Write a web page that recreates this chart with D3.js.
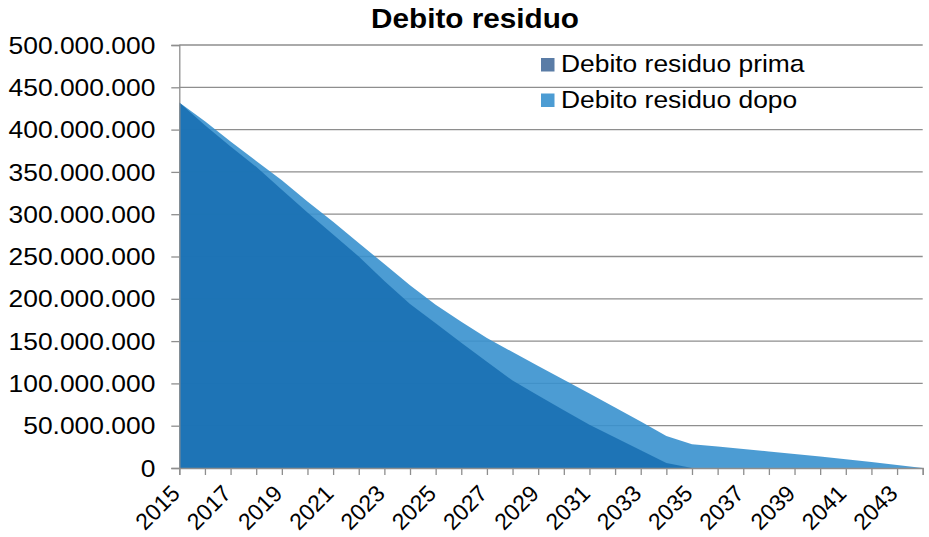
<!DOCTYPE html>
<html>
<head>
<meta charset="utf-8">
<script src="https://cdn.jsdelivr.net/npm/d3@7"></script>
<style>
  html, body { margin: 0; padding: 0; background: #fff; }
  svg { display: block; font-family: "Liberation Sans", Arial, sans-serif; }
</style>
</head>
<body>
<svg id="chart" width="929" height="537"></svg>
<script>
// Years on the category axis
const years = d3.range(2015, 2045);
// Labels shown on the x axis (every other year)
const yearLabels = years.filter((y, i) => i % 2 === 0);
// Residual debt before the change (euro)
const debitoPrima = [
  432e6, 405e6, 380e6, 356e6, 329e6, 302e6, 276e6, 250e6, 221e6, 194e6,
  171e6, 148e6, 125.5e6, 103.4e6, 85.6e6, 68.3e6, 51.2e6, 36e6, 21e6, 6e6,
  0, 0, 0, 0, 0, 0, 0, 0, 0, 0
];
// Residual debt after the change (euro)
const debitoDopo = [
  432e6, 410e6, 386e6, 363e6, 340e6, 315e6, 291e6, 266e6, 241e6, 216e6,
  193e6, 173e6, 153.7e6, 137e6, 120.7e6, 104.4e6, 88e6, 71.5e6, 55e6, 37.8e6,
  28e6, 25.3e6, 22.5e6, 19.6e6, 16.5e6, 13.5e6, 10.3e6, 7e6, 3.6e6, 0
];
// Y axis tick values
const yTicks = d3.range(0, 500e6 + 1, 50e6);
const seriesNames = ["Debito residuo prima", "Debito residuo dopo"];

const colors = {
  prima: "rgb(26,112,178)",
  dopo: "rgb(56,145,206)",
  primaKey: "#5a7ca6",
  dopoKey: "#4c9cd3",
  grid: "#8e8e8e"
};

const svg = d3.select("#chart");
const plotLeft = 179.3, plotRight = 922.7, plotTop = 45, plotBottom = 468;

const x = d3.scalePoint().domain(years).range([plotLeft, plotRight]);
const y = d3.scaleLinear().domain([0, 500e6]).range([plotBottom, plotTop]);

const it = d3.formatLocale({ decimal: ",", thousands: ".", grouping: [3], currency: ["€", ""] });
const fmt = it.format(",d");

// Horizontal gridlines (drawn under the semi-transparent areas)
svg.append("g")
  .selectAll("line")
  .data(yTicks.filter(d => d > 0))
  .join("line")
  .attr("x1", plotLeft).attr("x2", plotRight)
  .attr("y1", d => y(d)).attr("y2", d => y(d))
  .attr("stroke", colors.grid)
  .attr("stroke-width", 1.3);

const area = vals => d3.area()
  .x((d, i) => x(years[i]))
  .y0(y(0))
  .y1(d => y(d))(vals);

svg.append("path")
  .attr("d", area(debitoDopo))
  .attr("fill", colors.dopo)
  .attr("fill-opacity", 0.9);

svg.append("path")
  .attr("d", area(debitoPrima))
  .attr("fill", colors.prima)
  .attr("fill-opacity", 0.9);

// Y axis
const yAxis = svg.append("g")
  .attr("transform", `translate(${plotLeft},0)`)
  .call(d3.axisLeft(y).tickValues(yTicks).tickFormat(fmt).tickSize(8).tickPadding(16));
yAxis.select(".domain").attr("stroke", colors.grid).attr("stroke-width", 1.3);
yAxis.selectAll(".tick line").attr("stroke", colors.grid).attr("stroke-width", 1.3);
yAxis.selectAll(".tick text")
  .attr("font-size", 24)
  .attr("fill", "#000")
  .attr("dy", "0.34em")
  .attr("transform", function () {
    const tx = +d3.select(this).attr("x");
    return `translate(${tx},0) scale(1.1,1) translate(${-tx},0)`;
  });

// X axis
const xAxis = svg.append("g")
  .attr("transform", `translate(0,${plotBottom})`)
  .call(d3.axisBottom(x).tickValues(years).tickSize(7).tickFormat(""));
xAxis.select(".domain").attr("stroke", colors.grid).attr("stroke-width", 1.3);
xAxis.selectAll(".tick line").attr("stroke", colors.grid).attr("stroke-width", 1.3);

svg.append("g")
  .selectAll("text")
  .data(yearLabels)
  .join("text")
  .attr("transform", d => `translate(${x(d) + 2},${plotBottom + 27}) rotate(-45)`)
  .attr("text-anchor", "end")
  .attr("font-size", 23)
  .attr("fill", "#000")
  .text(d => d);

// Title
svg.append("text")
  .attr("transform", "translate(475,28) scale(1.08,1)")
  .attr("text-anchor", "middle")
  .attr("font-size", 27.5)
  .attr("font-weight", "bold")
  .attr("fill", "#000")
  .text("Debito residuo");

// Legend
const legend = svg.append("g");
const keys = [colors.primaKey, colors.dopoKey];
seriesNames.forEach((name, i) => {
  const ly = 58 + i * 35.5;
  legend.append("rect")
    .attr("x", 541).attr("y", ly)
    .attr("width", 13.5).attr("height", 13.5)
    .attr("fill", keys[i]);
  legend.append("text")
    .attr("transform", `translate(561,${ly + 14}) scale(1.1,1)`)
    .attr("font-size", 24)
    .attr("fill", "#000")
    .text(name);
});
</script>
</body>
</html>
